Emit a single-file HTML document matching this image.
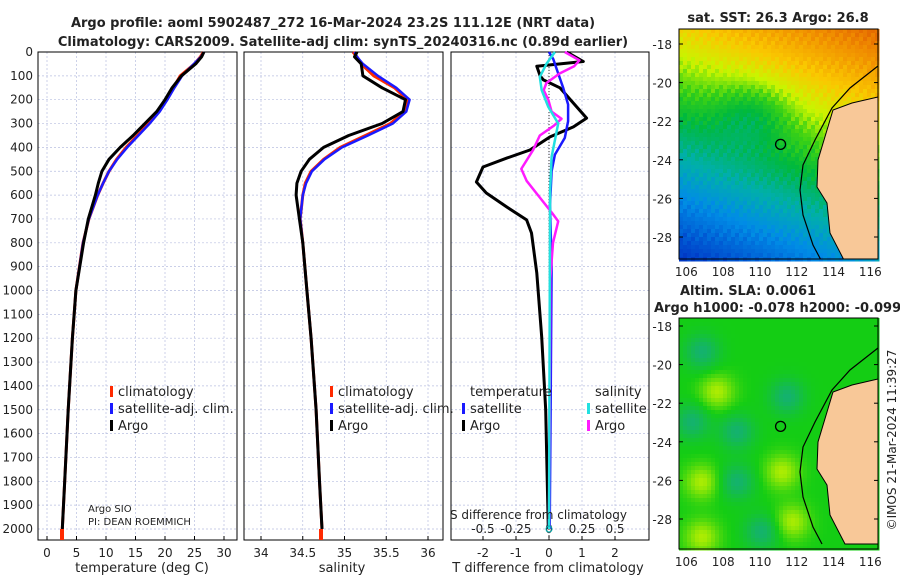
<!DOCTYPE html>
<html><head><meta charset="utf-8"><style>
body{margin:0;background:#fff}
svg text{font-family:"DejaVu Sans","Liberation Sans",sans-serif;fill:#222}
</style></head><body>
<svg id="c" width="900" height="580" xmlns="http://www.w3.org/2000/svg"></svg>
<script>
// ---- data ----
const depths=[0,20,50,100,150,200,250,300,350,400,450,500,550,600,700,800,1000,1200,1500,1800,2000];
const argoT=[26.6,26.2,25.2,22.8,21.2,20.0,18.6,16.6,14.6,12.4,10.5,9.3,8.7,8.2,7.0,6.2,4.9,4.3,3.6,3.0,2.6];
const climT=[26.5,26.0,25.0,22.6,21.4,20.2,18.9,17.2,15.3,13.4,11.8,10.5,9.5,8.6,7.1,6.1,4.9,4.3,3.6,3.0,2.6];
const satT=[26.6,26.1,24.9,22.9,21.6,20.4,19.1,17.4,15.5,13.6,11.9,10.5,9.5,8.6,7.1,6.1,4.9,4.3,3.6,3.0,2.6];
const argoS=[35.15,35.12,35.2,35.22,35.45,35.73,35.7,35.45,35.05,34.75,34.58,34.48,34.43,34.42,34.46,34.5,34.55,34.6,34.66,34.7,34.73];
const climS=[35.1,35.15,35.2,35.35,35.6,35.75,35.72,35.55,35.25,34.95,34.75,34.6,34.53,34.5,34.47,34.5,34.55,34.6,34.66,34.7,34.73];
const satS=[35.12,35.15,35.22,35.4,35.62,35.78,35.74,35.58,35.28,34.97,34.76,34.61,34.54,34.5,34.47,34.5,34.55,34.6,34.66,34.7,34.73];
const dTArgoDepth=[0,40,60,100,117,150,230,277,314,356,411,445,482,545,591,650,704,759,927,1195,1500,2000];
const dTArgo=[0.54,1.04,-0.37,-0.27,-0.17,0.33,0.84,1.14,0.74,0.03,-0.58,-1.28,-2.0,-2.2,-1.9,-1.28,-0.68,-0.53,-0.37,-0.22,-0.1,-0.02];
const dTSatDepth=[0,30,90,150,220,290,360,430,500,640,900,1500,2000];
const dTSat=[0,0.13,0.28,0.43,0.58,0.58,0.48,0.18,0.08,0.03,0.08,0.05,0.02];
const dSArgoDepth=[0,35,60,90,130,160,200,250,280,310,350,410,490,540,610,680,710,800,950,1500,2000];
const dSArgo=[0.12,0.23,0.19,0.08,-0.02,-0.04,-0.005,0.02,0.095,0.035,-0.07,-0.12,-0.21,-0.17,-0.07,0.03,0.07,0.03,0.01,0.005,0];
const dSSatDepth=[0,50,105,160,230,300,370,440,580,2000];
const dSSat=[0.045,-0.02,-0.07,-0.055,-0.005,0.07,0.045,0.02,0.008,0];
const depthTicks=[0,100,200,300,400,500,600,700,800,900,1000,1100,1200,1300,1400,1500,1600,1700,1800,1900,2000];
const tTicks=[0,5,10,15,20,25,30];
const sTicks=[34,34.5,35,35.5,36];
const dTTicks=[-2,-1,0,1,2];
const dSTicks=[-0.5,-0.25,0,0.25,0.5];
const latTicks=[-18,-20,-22,-24,-26,-28];
const lonTicks=[106,108,110,112,114,116];

const NS="http://www.w3.org/2000/svg";
const svg=document.getElementById('c');
function el(tag,attrs,parent){const e=document.createElementNS(NS,tag);for(const k in attrs)e.setAttribute(k,attrs[k]);(parent||svg).appendChild(e);return e;}
function txt(x,y,s,size,anchor,weight,parent){const t=el('text',{x:x,y:y,'font-size':size,'text-anchor':anchor||'start','font-weight':weight||'normal'},parent);t.textContent=s;return t;}

const TOP=52,BOT=540;
const yD=d=>TOP+d*0.2385;
const xT=v=>47+v*5.9;
const xS=v=>261+(v-34)*83.5;
const xDT=v=>549+v*33;
const xDS=v=>549+v*132;
const panels=[[38,237],[244,443],[451,649]];

panels.forEach((p,i)=>{
  const g=el('g',{});
  
  
  depthTicks.forEach(d=>{el('line',{x1:p[0],x2:p[1],y1:yD(d),y2:yD(d),stroke:'#b8bfe0','stroke-width':0.7,'stroke-dasharray':'2,2'},g);});
  const xs=i==0?tTicks.map(xT):i==1?sTicks.map(xS):dTTicks.map(xDT);
  xs.forEach(x=>{el('line',{x1:x,x2:x,y1:TOP,y2:BOT,stroke:'#b8bfe0','stroke-width':0.7,'stroke-dasharray':'2,2'},g);
    el('line',{x1:x,x2:x,y1:BOT,y2:BOT-4,stroke:'#000'},g);});
  el('rect',{x:p[0],y:TOP,width:p[1]-p[0],height:BOT-TOP,fill:'none',stroke:'#000','stroke-width':1},g);
});
depthTicks.forEach(d=>{const t=txt(33,yD(d)+4,String(d),12,'end');});
tTicks.forEach(v=>{const t=txt(xT(v),557,String(v),12,'middle');});
sTicks.forEach(v=>{const t=txt(xS(v),557,String(v),12,'middle');});
dTTicks.forEach(v=>{const t=txt(xDT(v),557,String(v),12,'middle');});
dSTicks.forEach(v=>{const t=txt(xDS(v),533,String(v),12,'middle');});

function line(xs,ds,xf,color,w,name){
  const pts=xs.map((v,i)=>xf(v).toFixed(1)+','+yD(ds[i]).toFixed(1)).join(' ');
  const p=el('polyline',{points:pts,fill:'none',stroke:color,'stroke-width':w,'stroke-linejoin':'round'});
  
  
}
line(climT,depths,xT,'#ff2a00',3,'temperature-climatology-line');
line(satT,depths,xT,'#1a1aff',2.5,'temperature-satellite-line');
line(argoT,depths,xT,'#000',3,'temperature-argo-line');
line(climS,depths,xS,'#ff2a00',3,'salinity-climatology-line');
line(satS,depths,xS,'#1a1aff',2.5,'salinity-satellite-line');
line(argoS,depths,xS,'#000',3,'salinity-argo-line');
el('line',{x1:549,x2:549,y1:TOP,y2:BOT,stroke:'#333','stroke-width':1,'stroke-dasharray':'1,2'});
line(dTArgo,dTArgoDepth,xDT,'#000',3,'t-diff-argo-line');
line(dTSat,dTSatDepth,xDT,'#1a1aff',2.5,'t-diff-satellite-line');
line(dSArgo,dSArgoDepth,xDS,'#ff1aff',2.5,'s-diff-argo-line');
line(dSSat,dSSatDepth,xDS,'#22e0e0',2.5,'s-diff-satellite-line');
el('rect',{x:60,y:529,width:4,height:11,fill:'#ff2a00'});
el('rect',{x:319,y:529,width:4,height:11,fill:'#ff2a00'});
el('circle',{cx:549,cy:529,r:3,fill:'none',stroke:'#0aa'});

function leg(x,y,c,s,mx){const g=el('g',{});
  el('rect',{x:mx,y:y-10,width:3,height:11,fill:c},g);txt(x,y,s,13,'start','normal',g);}
leg(118,396,'#ff2a00','climatology',110);leg(118,413,'#1a1aff','satellite-adj. clim.',110);leg(118,430,'#000','Argo',110);
leg(338,396,'#ff2a00','climatology',330);leg(338,413,'#1a1aff','satellite-adj. clim.',330);leg(338,430,'#000','Argo',330);
txt(470,396,'temperature',13);txt(595,396,'salinity',13);
leg(470,413,'#1a1aff','satellite',462);leg(470,430,'#000','Argo',462);
leg(595,413,'#22e0e0','satellite',587);leg(595,430,'#ff1aff','Argo',587);
txt(88,512,'Argo SIO',10);txt(88,525,'PI: DEAN ROEMMICH',10);
txt(450,519,'S difference from climatology',12);
txt(142,572,'temperature (deg C)',13,'middle');
txt(342,572,'salinity',13,'middle');
txt(548,572,'T difference from climatology',13,'middle');
txt(333,27,'Argo profile: aoml 5902487_272 16-Mar-2024 23.2S 111.12E (NRT data)',13,'middle','bold');
txt(343,46,'Climatology: CARS2009. Satellite-adj clim: synTS_20240316.nc (0.89d earlier)',13,'middle','bold');

// maps
const stops=[[0,[0,20,140]],[0.15,[0,60,200]],[0.3,[0,140,230]],[0.4,[0,175,170]],[0.5,[0,185,60]],[0.58,[60,210,20]],[0.66,[200,245,0]],[0.76,[250,200,0]],[0.88,[240,140,0]],[1,[220,80,0]]];
function cmap(v){v=Math.max(0,Math.min(1,v));for(let i=1;i<stops.length;i++){if(v<=stops[i][0]){const a=stops[i-1],b=stops[i];const t=(v-a[0])/(b[0]-a[0]);const c=a[1].map((x,k)=>Math.round(x+(b[1][k]-x)*t));return `rgb(${c})`;}}return 'rgb(220,80,0)';}
const MX0=679,MX1=878;
const lonX=lon=>679+(lon-105.6)*18.4;
const landPts='M878,97 L852,103 L833,110 L827,130 L818,160 L817,187 L827,203 L830,233 L845,262 L878,262 Z';
const shelfPts='M878,66 L850,88 L832,108 L815,140 L803,165 L800,190 L803,215 L813,245 L822,262';
function drawMap(y0,y1,latY,field,name){
  const g=el('g',{});
  const cs=4;
  for(let x=MX0;x<MX1;x+=cs)for(let y=y0;y<y1;y+=cs){
    const lon=105.6+(x-679)/18.4, lat=-18-(y-latY)/19.3;
    el('rect',{x:x,y:y,width:cs+0.5,height:cs+0.5,fill:field(lon,lat,x,y)},g);
  }
  const o=latY-44;
  const cp=el('clipPath',{id:'cp'+name},g);el('rect',{x:MX0,y:y0,width:MX1-MX0,height:y1-y0},cp);
  const inner=el('g',{'clip-path':`url(#cp${name})`},g);
  el('path',{d:landPts,fill:'#f8c898',stroke:'#000','stroke-width':1,transform:`translate(0,${o})`},inner);
  el('path',{d:shelfPts,fill:'none',stroke:'#000','stroke-width':1.2,transform:`translate(0,${o})`},inner);
  el('circle',{cx:lonX(111.12),cy:latY+(23.2-18)*19.3,r:5,fill:'none',stroke:'#000','stroke-width':1.3},g);
  el('rect',{x:MX0,y:y0,width:MX1-MX0,height:y1-y0,fill:'none',stroke:'#000'},g);
  latTicks.forEach(l=>{const yy=latY+(-18-l)*19.3;txt(672,yy+5,String(l),12,'end');el('line',{x1:MX0,x2:MX0+4,y1:yy,y2:yy,stroke:'#000'},g);el('line',{x1:MX1,x2:MX1-4,y1:yy,y2:yy,stroke:'#000'},g);});
  lonTicks.forEach(l=>{txt(lonX(l),y1+17,String(l),12,'middle');});
}
drawMap(29,259,44,(lon,lat)=>{let v=0.55+0.05*(lat+23)+0.02*(lon-111)-0.1*Math.exp(-((lon-109.5)**2/4+(lat+21.5)**2/3));v+=0.025*Math.sin(lon*11+lat*7)*Math.cos(lat*13);return cmap(v);},'sst-map');
const teal=[[700,350],[735,430],[735,480],[785,395],[690,420],[760,530]];
const yel=[[715,390],[780,470],[700,480],[700,535],[790,520]];
drawMap(318,549,326,(lon,lat,x,y)=>{let v=0;teal.forEach(p=>{v-=Math.exp(-((x-p[0])**2+(y-p[1])**2)/300);});yel.forEach(p=>{v+=Math.exp(-((x-p[0])**2+(y-p[1])**2)/300);});
  v=Math.max(-1,Math.min(1,v));const b=[20,205,20];const t=v<0?[20,175,120]:[190,240,0];const a=Math.abs(v)*0.9;
  return `rgb(${b.map((c,k)=>Math.round(c+(t[k]-c)*a))})`;},'sla-map');
txt(778,22,'sat. SST: 26.3 Argo: 26.8',13,'middle','bold');
txt(680,295,'Altim. SLA: 0.0061',13,'start','bold');
txt(654,312,'Argo h1000: -0.078 h2000: -0.099',13,'start','bold');
const cr=txt(0,0,'©IMOS 21-Mar-2024 11:39:27',12,'middle');cr.setAttribute('transform','translate(896,440) rotate(-90)');
</script>
</body></html>
